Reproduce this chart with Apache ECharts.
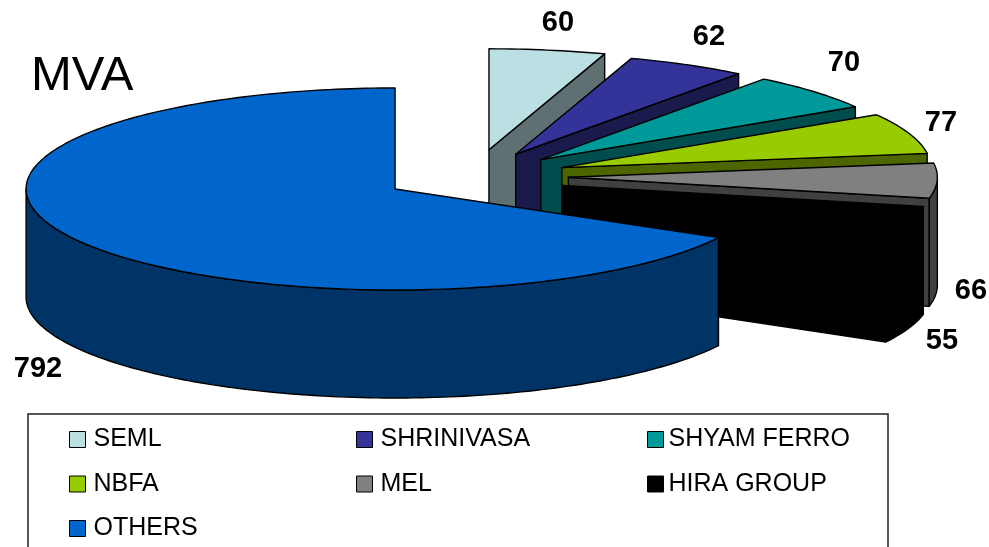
<!DOCTYPE html>
<html>
<head>
<meta charset="utf-8">
<title>MVA</title>
<style>
  html, body { margin: 0; padding: 0; background: #fff; }
  #chart { width: 989px; height: 547px; }
</style>
<script src="https://cdn.jsdelivr.net/npm/echarts@6/dist/echarts.min.js"></script>
</head>
<body>
<div id="chart"></div>
<script>
const categories = ['SEML', 'SHRINIVASA', 'SHYAM FERRO', 'NBFA', 'MEL', 'HIRA GROUP', 'OTHERS']
const values = [60, 62, 70, 77, 66, 55, 792]

const topColors = ['#BBE0E3', '#333399', '#009999', '#99CC00', '#808080', '#000000', '#0066CC']
const sideColors = ['#5E7072', '#1A1A4D', '#004D4D', '#4D6600', '#404040', '#000000', '#003366']
// where the value labels sit, same order as categories
const labelPos = [[558, 23], [709, 37], [844, 63], [941, 123], [971, 291], [942, 341], [38, 369]]
// how far each slice is pulled out of the pie
const explode = [98, 91, 91, 94, 95, 95, 91]

// the pie as seen from above: a tilted ellipse with a rim
const pie = { cx: 473.4, cy: 176.3, rx: 369, ry: 101, depth: 108 }
const FONT = '"Liberation Sans", Arial, sans-serif'

const total = values.reduce((a, b) => a + b, 0)

function sliceShapes(index, value) {
  let before = 0
  for (let i = 0; i < index; i++) before += values[i]
  const a0 = before / total * Math.PI * 2
  const a1 = (before + value) / total * Math.PI * 2
  const mid = (a0 + a1) / 2

  const ox = pie.cx + explode[index] * Math.sin(mid)
  const oy = pie.cy - explode[index] * pie.ry / pie.rx * Math.cos(mid)
  const at = (a) => [ox + pie.rx * Math.sin(a), oy - pie.ry * Math.cos(a)]
  const down = (p) => [p[0], p[1] + pie.depth]

  const arc = (from, to) => {
    const steps = Math.max(2, Math.ceil((to - from) / 0.02))
    const pts = []
    for (let s = 0; s <= steps; s++) pts.push(at(from + (to - from) * s / steps))
    return pts
  }

  const poly = (points, fill) => ({
    type: 'polygon',
    shape: { points },
    style: { fill, stroke: '#000', lineWidth: 1.4, lineJoin: 'round' }
  })

  const children = []
  const apex = [ox, oy]

  // cut face on the clockwise side, only when it looks at the viewer
  if (a1 < Math.PI) {
    const end = at(a1)
    children.push(poly([apex, end, down(end), down(apex)], sideColors[index]))
  }

  // outer wall: the front half of the rim only
  const w0 = Math.max(a0, Math.PI / 2)
  const w1 = Math.min(a1, Math.PI * 1.5)
  if (w1 > w0) {
    const rim = arc(w0, w1)
    children.push(poly(rim.concat(rim.map(down).reverse()), sideColors[index]))
  }

  children.push(poly([apex].concat(arc(a0, a1)), topColors[index]))

  children.push({
    type: 'text',
    style: {
      text: String(value),
      x: labelPos[index][0],
      y: labelPos[index][1],
      align: 'center',
      verticalAlign: 'middle',
      fill: '#000',
      font: 'bold 29px ' + FONT
    }
  })
  return { type: 'group', children }
}

const series = categories.map((name, i) => ({
  type: 'custom',
  name,
  coordinateSystem: 'none',
  silent: true,
  itemStyle: { color: topColors[i] },
  data: [[values[i]]],
  renderItem: (params, api) => sliceShapes(i, api.value(0))
}))

function legendColumn(data, left, textPad) {
  return {
    data,
    left,
    top: 427,
    orient: 'vertical',
    icon: 'rect',
    padding: 0,
    itemWidth: 16,
    itemHeight: 16,
    itemGap: 19.5,
    selectedMode: false,
    itemStyle: { borderColor: '#000', borderWidth: 1 },
    textStyle: { color: '#000', fontSize: 25, fontFamily: FONT, padding: [0, 0, 0, textPad] }
  }
}

const chart = echarts.init(document.getElementById('chart'))
chart.setOption({
  animation: false,
  backgroundColor: '#fff',
  title: {
    text: 'MVA',
    left: 31,
    top: 52,
    padding: 0,
    textStyle: { color: '#000', fontSize: 49, fontWeight: 'normal', fontFamily: FONT }
  },
  legend: [
    legendColumn(['SEML', 'NBFA', 'OTHERS'], 69, 3),
    legendColumn(['SHRINIVASA', 'MEL'], 356, 3),
    legendColumn(['SHYAM FERRO', 'HIRA GROUP'], 647, 0)
  ],
  graphic: [{
    type: 'rect',
    silent: true,
    shape: { x: 28, y: 414, width: 860, height: 150 },
    style: { fill: 'none', stroke: '#222', lineWidth: 1.5 }
  }],
  series
})
</script>
</body>
</html>
